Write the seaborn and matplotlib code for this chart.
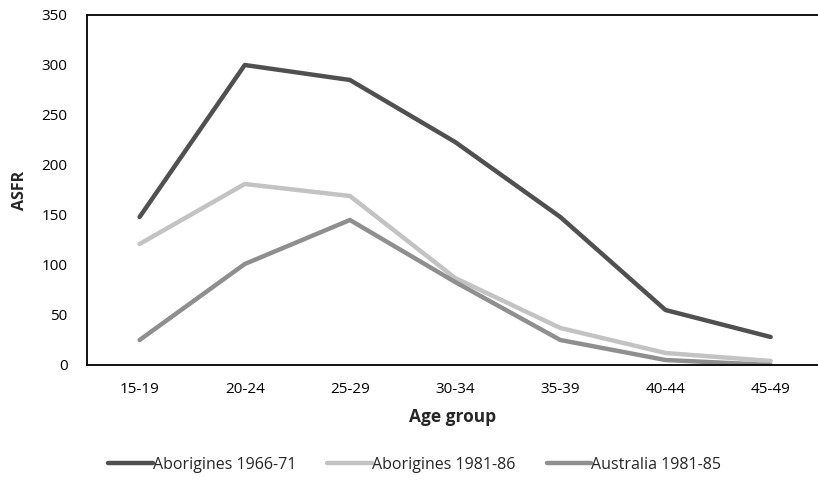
import pandas as pd
import seaborn as sns
import matplotlib.pyplot as plt
from matplotlib.ticker import FixedLocator

age_groups = ['15-19', '20-24', '25-29', '30-34', '35-39', '40-44', '45-49']
abor_1966 = [148, 300, 285, 223, 148, 55, 28]
abor_1981 = [121, 181, 169, 87, 37, 12, 4]
aus_1981 = [25, 101, 145, 83, 25, 5, 0]
series_names = ['Aborigines 1966-71', 'Aborigines 1981-86', 'Australia 1981-85']

rows = []
for name, vals in zip(series_names, [abor_1966, abor_1981, aus_1981]):
    for i, (g, v) in enumerate(zip(age_groups, vals)):
        rows.append({'pos': i, 'age': g, 'asfr': v, 'series': name})
df = pd.DataFrame(rows)

sns.set_theme(style='white')
plt.rcParams['font.family'] = ['Open Sans', 'DejaVu Sans']

fig = plt.figure(figsize=(8.18, 4.82), dpi=100)
ax = fig.add_axes([87 / 818, 1 - 365 / 482, (818 - 87) / 818, 350 / 482])

palette = {'Aborigines 1966-71': '#505050',
           'Aborigines 1981-86': '#c3c3c3',
           'Australia 1981-85': '#8f8f8f'}
sns.lineplot(data=df, x='pos', y='asfr', hue='series', palette=palette,
             linewidth=3.2, ax=ax, legend=True)
for line in ax.lines:
    line.set_solid_capstyle('round')

ax.set_xlim(-0.5, 6.45)
ax.set_ylim(0, 350)
ax.set_yticks(range(0, 351, 50))
ax.set_xticks(range(len(age_groups)))
ax.set_xticklabels(age_groups)
ax.xaxis.set_minor_locator(FixedLocator([i - 0.5 for i in range(len(age_groups) + 1)]))
ax.tick_params(axis='x', which='major', length=0, pad=12, labelsize=11, colors='#000000')
ax.tick_params(axis='x', which='minor', length=5, width=1, direction='out', color='#000000')
ax.tick_params(axis='y', length=0, pad=14, labelsize=11, colors='#000000')

for side in ['left', 'top', 'bottom']:
    ax.spines[side].set_visible(True)
    ax.spines[side].set_color('#000000')
    ax.spines[side].set_linewidth(1.3)
ax.spines['right'].set_visible(False)

ax.set_xlabel('Age group', fontsize=12.5, fontweight='bold', labelpad=8)
ax.set_ylabel('ASFR', fontsize=11.5, fontweight='bold', labelpad=10)

handles, labels = ax.get_legend_handles_labels()
ax.get_legend().remove()
fig.legend(handles, labels, loc='center', bbox_to_anchor=(0.507, 1 - 465 / 482),
           ncol=3, frameon=False, fontsize=11.5, handlelength=2.8,
           handletextpad=0.0, columnspacing=1.95)

plt.savefig('out.png', dpi=100)
